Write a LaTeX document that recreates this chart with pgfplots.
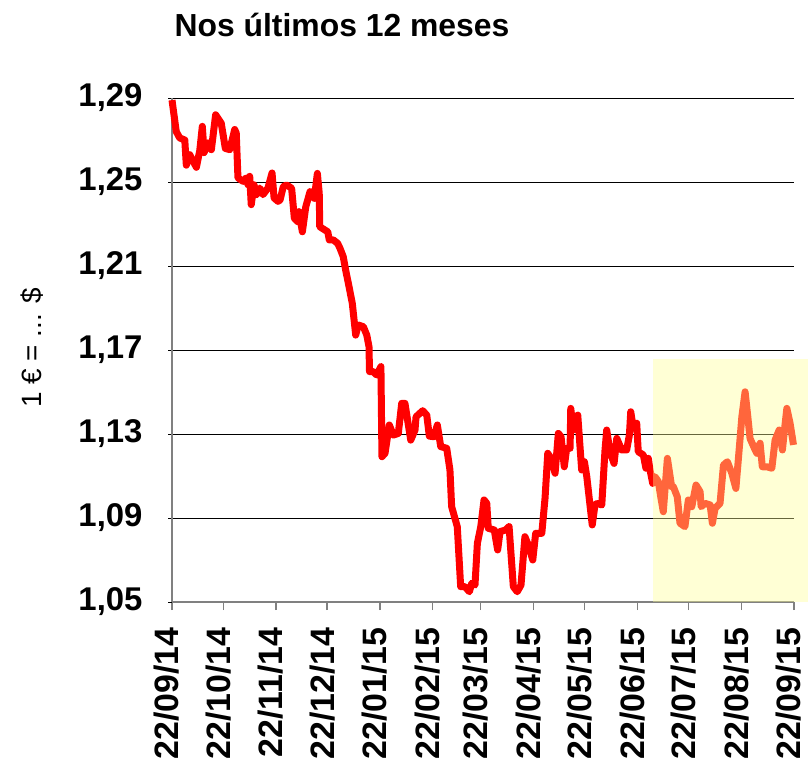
\documentclass[border=0pt]{standalone}
\usepackage{pgfplots}
\pgfplotsset{compat=1.18}
\usepackage{fontspec}
\setmainfont{Liberation Sans}
\definecolor{hl}{RGB}{255,255,150}
\definecolor{axgray}{RGB}{128,128,128}
\begin{document}
\begin{tikzpicture}
\path[use as bounding box] (0,0) rectangle (808bp,-776bp);
\node[font=\fontsize{32}{38}\selectfont\bfseries] at (342bp,-25bp) {Nos últimos 12 meses};
\node[font=\fontsize{28}{32}\selectfont, rotate=90] at (32bp,-348bp) {1 € = ... \$};
\begin{axis}[
  at={(172bp,-602bp)}, anchor=south west,
  width=622bp, height=504bp, scale only axis,
  xmin=0, xmax=365, ymin=1.05, ymax=1.29,
  clip=false,
  axis x line=bottom, axis y line=left,
  axis line style={-, draw=axgray, line width=1.6bp},
  xtick={0,30,61,91,122,153,181,212,242,273,303,334,365},
  xticklabels={22/09/14,22/10/14,22/11/14,22/12/14,22/01/15,22/02/15,22/03/15,22/04/15,22/05/15,22/06/15,22/07/15,22/08/15,22/09/15},
  xtick style={draw=axgray, line width=1.2bp},
  x tick label style={yshift=-14bp, xshift=-5bp, rotate=90, anchor=east, font=\fontsize{34}{40}\selectfont\bfseries},
  xtick align=outside, major tick length=8bp,
  ytick={1.05,1.09,1.13,1.17,1.21,1.25,1.29},
  ytick style={draw=black, line width=1bp},
  y tick label style={font=\fontsize{33}{36}\selectfont\bfseries, xshift=-22bp},
  yticklabel style={/pgf/number format/.cd, fixed, fixed zerofill, precision=2, use comma, assume math mode=true},
  ymajorgrids, major grid style={draw=black, line width=0.9bp},
]
\addplot[red, line width=7bp, line join=round] coordinates {
(0,1.289) (2.5,1.274) (4.5,1.271) (7.5,1.270) (8.4,1.258) (10.4,1.263) (14.3,1.257) (16.3,1.265) (17.8,1.2765) (18.8,1.264) (21.1,1.2686) (23.1,1.2654) (25.6,1.282) (28.9,1.278) (31.3,1.266) (33.9,1.2654) (36.8,1.275) (37.7,1.2733) (38.7,1.252) (41.7,1.2503) (43.6,1.252) (44.6,1.2487) (45.6,1.2527) (46.5,1.2392) (48.1,1.2487) (49.5,1.244) (51.5,1.2471) (53.4,1.244) (56.3,1.2471) (58.7,1.2543) (59.9,1.2424) (62.2,1.2408) (63.4,1.2414) (65.3,1.2478) (67.3,1.2486) (70.2,1.247) (71.8,1.2327) (73.8,1.2311) (74.5,1.2359) (76.5,1.2263) (78.5,1.2382) (81.0,1.2454) (83.5,1.2422) (85.3,1.2541) (86.4,1.2446) (86.7,1.2287) (89.8,1.2271) (91.4,1.2263) (92.3,1.2224) (94.7,1.2224) (97.2,1.2208) (98.6,1.2184) (100.5,1.2144) (101.9,1.2081) (103.9,1.2001) (105.8,1.1922) (107.8,1.1771) (109.3,1.1819) (112.3,1.1811) (114.3,1.1771) (115.6,1.1716) (115.9,1.1597) (118.1,1.1597) (120.1,1.1581) (122.6,1.1621) (123.2,1.1192) (125.0,1.1208) (127.5,1.1343) (129.9,1.1295) (132.8,1.1303) (134.8,1.1446) (136.7,1.1446) (140.1,1.1271) (142.6,1.1319) (143.2,1.1382) (147.1,1.1411) (149.5,1.139) (151.0,1.129) (153.7,1.1287) (155.7,1.1343) (157.7,1.124) (161.2,1.1232) (163.1,1.1129) (164.1,1.0954) (167.4,1.0859) (169.4,1.0573) (171.9,1.0573) (174.5,1.0549) (175.9,1.0589) (177.8,1.0581) (179.2,1.078) (181.2,1.0859) (183.1,1.0986) (184.7,1.097) (185.6,1.0851) (189.1,1.0843) (191.1,1.0748) (192.5,1.0835) (195.8,1.0843) (197.8,1.0859) (200.3,1.0573) (202.6,1.0549) (204.8,1.0581) (207.1,1.0811) (209.1,1.0771) (211.7,1.07) (213.4,1.0827) (217.0,1.0827) (218.9,1.0994) (220.5,1.1208) (222.4,1.1184) (224.8,1.1113) (226.7,1.1303) (228.3,1.1287) (230.2,1.1144) (231.6,1.1232) (233.6,1.1232) (234.0,1.1422) (235.5,1.1319) (238.1,1.139) (240.4,1.1129) (242.0,1.1168) (243.4,1.1097) (246.6,1.0867) (248.2,1.0962) (249.6,1.097) (252.2,1.0962) (254.1,1.1224) (255.1,1.1319) (257.0,1.1216) (259.4,1.116) (261.0,1.1279) (263.9,1.1224) (266.8,1.1224) (268.4,1.1295) (269.2,1.1406) (270.7,1.1327) (272.7,1.1351) (273.6,1.1216) (276.6,1.12) (278.1,1.1137) (279.5,1.1184) (280.5,1.1129) (282.1,1.1065) (283.4,1.1097) (285.4,1.1073) (286.8,1.1001) (288.3,1.093) (290.7,1.1184) (293.2,1.1049) (294.2,1.1049) (296.5,1.1001) (298.1,1.0875) (301.0,1.0859) (303.0,1.0986) (305.0,1.0954) (307.5,1.1057) (309.9,1.1025) (310.5,1.0954) (312.8,1.097) (315.8,1.0962) (317.1,1.0875) (318.7,1.0946) (321.6,1.097) (323.6,1.1152) (325.9,1.1168) (328.5,1.1113) (330.9,1.1041) (332.8,1.1224) (334.4,1.1382) (336.3,1.1501) (337.9,1.1382) (339.2,1.1279) (342.2,1.1224) (343.2,1.1208) (345.1,1.1256) (346.4,1.1144) (349.0,1.1144) (352.0,1.1137) (353.9,1.1271) (356.3,1.1319) (358.2,1.1224) (359.4,1.1319) (360.8,1.1422) (362.7,1.1351) (364.7,1.1248)
};
\addplot[draw=none, fill=hl, fill opacity=0.4] coordinates {(282.1,1.05) (388.8,1.05) (388.8,1.1657) (282.1,1.1657)} --cycle;
\end{axis}
\end{tikzpicture}
\end{document}
